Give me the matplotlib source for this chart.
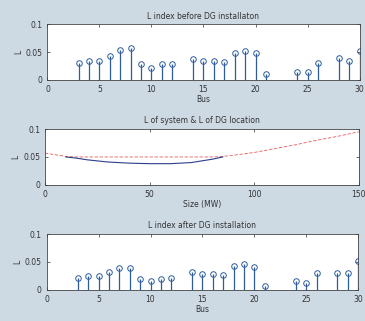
import matplotlib
matplotlib.use('Agg')
import matplotlib.pyplot as plt
import numpy as np

# bus numbers and L index values
bus = [3, 4, 5, 6, 7, 8, 9, 10, 11, 12, 14, 15, 16, 17, 18, 19, 20, 21, 24, 25, 26, 28, 29, 30]
L_before = [0.031, 0.033, 0.033, 0.043, 0.053, 0.057, 0.028, 0.022, 0.029, 0.028, 0.037, 0.033, 0.034, 0.032,
            0.048, 0.052, 0.048, 0.011, 0.015, 0.014, 0.031, 0.039, 0.033, 0.051]
L_after = [0.021, 0.025, 0.025, 0.032, 0.040, 0.040, 0.019, 0.016, 0.020, 0.022, 0.032, 0.028, 0.028, 0.026,
           0.043, 0.047, 0.041, 0.007, 0.016, 0.012, 0.031, 0.030, 0.030, 0.051]

size_sys = [0, 5, 10, 15, 20, 30, 40, 50, 60, 70, 80, 85, 90, 100, 110, 120, 130, 140, 150]
L_sys = [0.057, 0.054, 0.051, 0.050, 0.050, 0.050, 0.050, 0.050, 0.050, 0.050, 0.050, 0.051, 0.053,
         0.058, 0.065, 0.072, 0.080, 0.087, 0.095]
size_dg = [10, 15, 20, 30, 40, 50, 60, 70, 80, 85]
L_dg = [0.050, 0.048, 0.045, 0.041, 0.039, 0.038, 0.038, 0.040, 0.046, 0.050]

bg = '#cdd9e3'
txt = '#333333'
fs = 5.5
blue = '#2d5c9c'

fig = plt.figure(figsize=(3.65, 3.21), dpi=100)
fig.patch.set_facecolor(bg)

def style(ax):
    ax.set_facecolor('white')
    ax.tick_params(direction='in', length=2, width=0.5, labelsize=fs, colors=txt, top=True, right=True)
    for s in ax.spines.values():
        s.set_linewidth(0.6)
        s.set_color('#444444')
    ax.set_ylim(0, 0.1)
    ax.set_yticks([0, 0.05, 0.1])
    ax.set_yticklabels(['0', '0.05', '0.1'])
    ax.set_ylabel('L', fontsize=fs, color=txt, labelpad=2)

def stems(ax, vals, title):
    ml, sl, bl = ax.stem(bus, vals, basefmt=' ')
    plt.setp(ml, marker='o', markersize=4, markerfacecolor='none', markeredgecolor=blue, markeredgewidth=0.7)
    plt.setp(sl, color=blue, linewidth=0.9)
    ax.set_xlim(0, 30)
    ax.set_xticks(range(0, 31, 5))
    ax.set_xlabel('Bus', fontsize=fs, color=txt, labelpad=1)
    ax.set_title(title, fontsize=fs, color=txt, pad=4)
    style(ax)

ax1 = fig.add_axes([0.13, 0.751, 0.855, 0.174])
stems(ax1, L_before, 'L index before DG installaton')

ax2 = fig.add_axes([0.123, 0.424, 0.860, 0.174])
ax2.plot(size_sys, L_sys, color='#e85a5a', linestyle='--', linewidth=0.6, dashes=(4, 2))
ax2.plot(size_dg, L_dg, color='#2a3f8a', linewidth=0.8)
ax2.set_xlim(0, 150)
ax2.set_xticks([0, 50, 100, 150])
ax2.set_xlabel('Size (MW)', fontsize=fs, color=txt, labelpad=1)
ax2.set_title('L of system & L of DG location', fontsize=fs, color=txt, pad=4)
style(ax2)

ax3 = fig.add_axes([0.128, 0.097, 0.853, 0.174])
stems(ax3, L_after, 'L index after DG installation')

fig.savefig('out.png', dpi=100, facecolor=bg)
